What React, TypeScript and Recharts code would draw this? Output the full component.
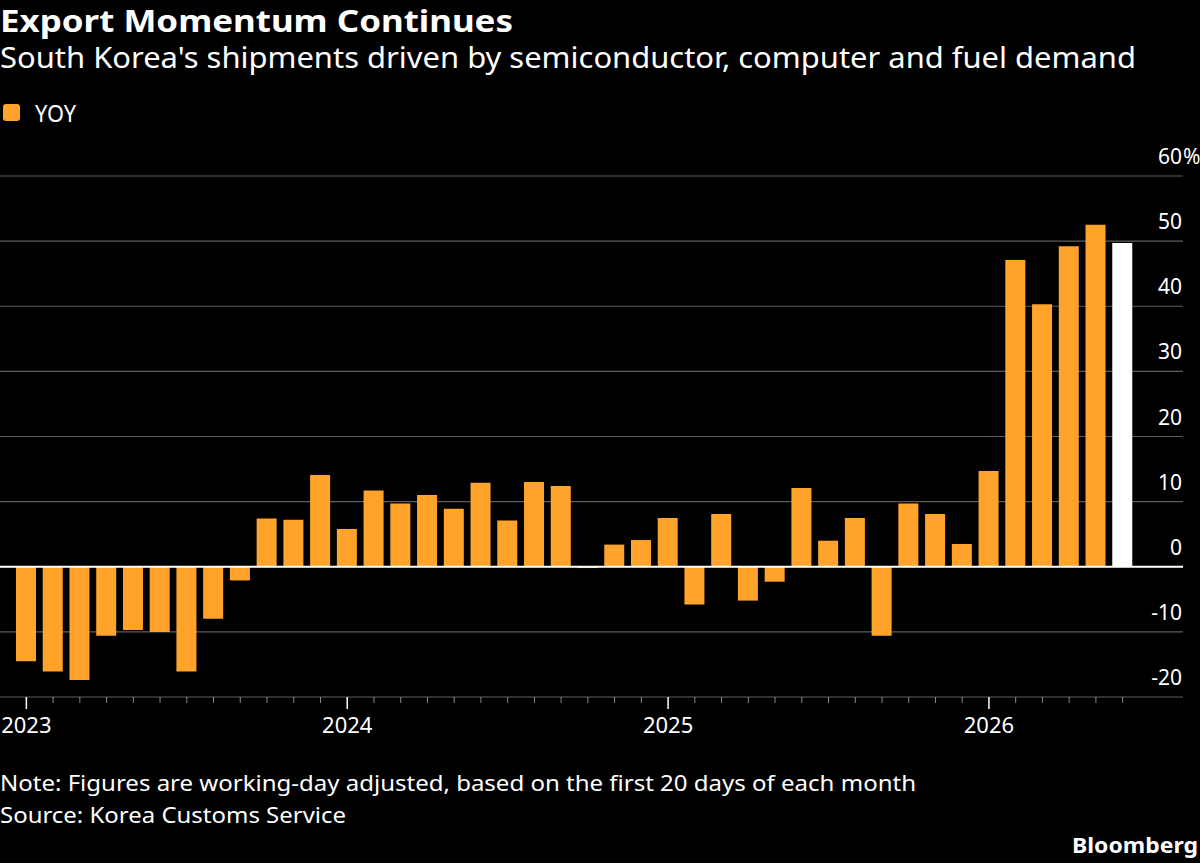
import React from "react";
import { BarChart, Bar, XAxis, YAxis, CartesianGrid, ReferenceLine, Cell } from "recharts";

const months: string[] = [
  "2023-01","2023-02","2023-03","2023-04","2023-05","2023-06","2023-07","2023-08","2023-09","2023-10","2023-11","2023-12",
  "2024-01","2024-02","2024-03","2024-04","2024-05","2024-06","2024-07","2024-08","2024-09","2024-10","2024-11","2024-12",
  "2025-01","2025-02","2025-03","2025-04","2025-05","2025-06","2025-07","2025-08","2025-09","2025-10","2025-11","2025-12",
  "2026-01","2026-02","2026-03","2026-04","2026-05","2026-06",
];

const yoy: number[] = [
  -14.5, -16.1, -17.4, -10.6, -9.7, -10.0, -16.1, -8.0, -2.1, 7.4, 7.2, 14.1,
  5.8, 11.7, 9.7, 11.0, 8.9, 12.9, 7.1, 13.0, 12.4, -0.2, 3.4, 4.1,
  7.5, -5.8, 8.1, -5.2, -2.3, 12.1, 4.0, 7.5, -10.6, 9.7, 8.1, 3.5,
  14.7, 47.1, 40.3, 49.2, 52.5, 49.7,
];

const highlighted: boolean[] = months.map((_, i) => i === months.length - 1);

const yTicks: number[] = [-20, -10, 0, 10, 20, 30, 40, 50, 60];

const title = "Export Momentum Continues";
const subtitle = "South Korea's shipments driven by semiconductor, computer and fuel demand";
const legendLabel = "YOY";
const note = "Note: Figures are working-day adjusted, based on the first 20 days of each month";
const source = "Source: Korea Customs Service";
const brand = "Bloomberg";

const ORANGE = "#ffa32b";
const FONT = "'Noto Sans', 'Open Sans', 'DejaVu Sans', sans-serif";
const PLOT_BOTTOM = 697;
const LABEL_RIGHT = 1182;

const data = months.map((m, i) => ({ month: m, value: yoy[i], hl: highlighted[i] }));

const XTick = (props: any) => {
  const { x, payload } = props;
  const v: string = String(payload.value);
  const major = v.endsWith("-01");
  const y = PLOT_BOTTOM;
  return (
    <g>
      <line x1={x} x2={x} y1={y} y2={y + (major ? 12 : 6)} stroke={major ? "#ffffff" : "#8a8a8a"} strokeWidth={major ? 1.5 : 1} />
      {major && (
        <text x={x} y={y + 36} textAnchor="middle" fill="#ffffff" fontSize={22} fontFamily={FONT}>
          {v.slice(0, 4)}
        </text>
      )}
    </g>
  );
};

const YTick = (props: any) => {
  const { y, payload } = props;
  const v: number = Number(payload.value);
  return (
    <g>
      <text x={LABEL_RIGHT} y={y - 12} textAnchor="end" fill="#ffffff" fontSize={21} fontFamily={FONT}>
        {String(v)}
      </text>
      {v === 60 && (
        <text x={LABEL_RIGHT + 1} y={y - 12} textAnchor="start" fill="#ffffff" fontSize={21} fontFamily={FONT}>
          %
        </text>
      )}
    </g>
  );
};

export default function App() {
  return (
    <div style={{ position: "absolute", left: 0, top: 0, width: 1200, height: 863, background: "#000000", overflow: "hidden" }}>
      <BarChart
        width={1200}
        height={863}
        data={data}
        margin={{ top: 176, right: 0, bottom: 126, left: 0 }}
        style={{ position: "absolute", left: 0, top: 0 }}
      >
        <CartesianGrid horizontal={true} vertical={false} stroke="#5e5e5e" strokeWidth={1.2} />
        <XAxis
          dataKey="month"
          interval={0}
          height={40}
          tickSize={0}
          tickMargin={0}
          axisLine={false}
          tickLine={false}
          tick={<XTick />}
          padding={{ left: 13, right: 47 }}
        />
        <YAxis
          orientation="right"
          width={17}
          domain={[-20, 60]}
          ticks={yTicks}
          interval={0}
          axisLine={false}
          tickLine={false}
          tick={<YTick />}
        />
        <Bar dataKey="value" barSize={20} isAnimationActive={false}>
          {data.map((d, i) => (
            <Cell key={i} fill={d.hl ? "#ffffff" : ORANGE} />
          ))}
        </Bar>
        <ReferenceLine y={0} stroke="#ffffff" strokeWidth={2} />
      </BarChart>
      <svg width={1200} height={863} style={{ position: "absolute", left: 0, top: 0, pointerEvents: "none" }}>
        <text x={0} y={32} fill="#ffffff" fontSize={30} fontWeight="bold" fontFamily={FONT} textLength={513} lengthAdjust="spacingAndGlyphs">
          {title}
        </text>
        <text x={0} y={68} fill="#ffffff" fontSize={29} fontFamily={FONT} textLength={1136} lengthAdjust="spacingAndGlyphs">
          {subtitle}
        </text>
        <rect x={3} y={104} width={17} height={17} rx={3} ry={3} fill={ORANGE} />
        <text x={35} y={122} fill="#ffffff" fontSize={23} fontFamily={FONT} textLength={41} lengthAdjust="spacingAndGlyphs">
          {legendLabel}
        </text>
        <text x={0} y={791} fill="#ffffff" fontSize={22} fontFamily={FONT} textLength={916} lengthAdjust="spacingAndGlyphs">
          {note}
        </text>
        <text x={0} y={823} fill="#ffffff" fontSize={22} fontFamily={FONT} textLength={346} lengthAdjust="spacingAndGlyphs">
          {source}
        </text>
        <text x={1072} y={853} fill="#ffffff" fontSize={22} fontWeight="bold" fontFamily={FONT} textLength={126} lengthAdjust="spacingAndGlyphs">
          {brand}
        </text>
      </svg>
    </div>
  );
}
